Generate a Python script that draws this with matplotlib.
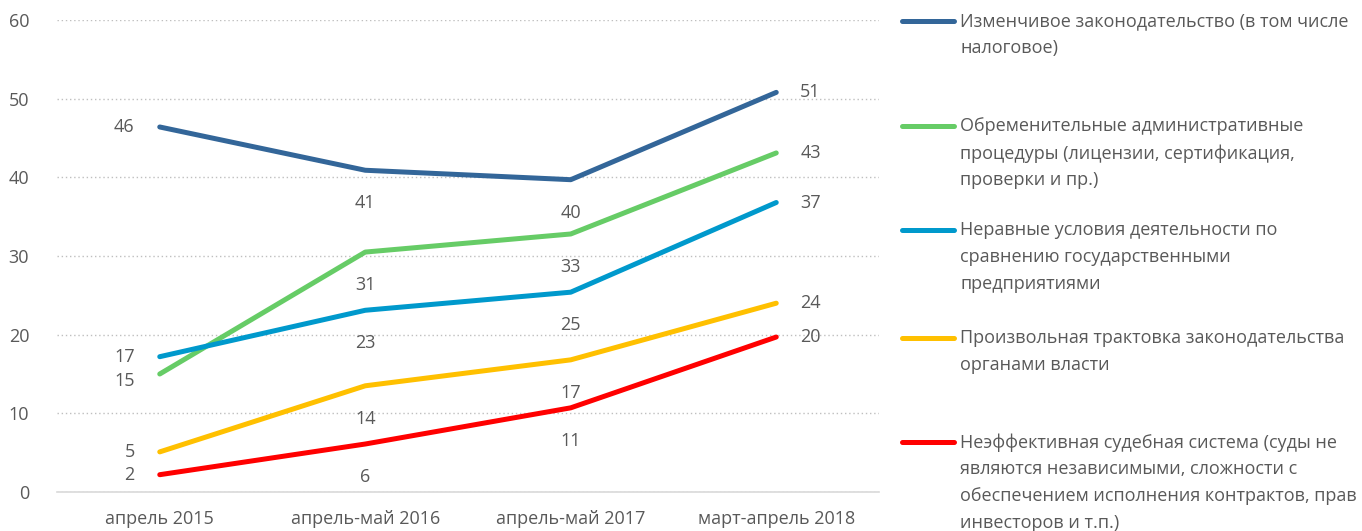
import matplotlib
matplotlib.use("Agg")
import matplotlib.pyplot as plt
from matplotlib.lines import Line2D

plt.rcParams['font.family'] = ['Open Sans', 'DejaVu Sans']

# Categories and series
periods = ["апрель 2015", "апрель-май 2016", "апрель-май 2017", "март-апрель 2018"]

changing_law = [46.4, 40.9, 39.7, 50.8]
admin_burden = [15.0, 30.5, 32.8, 43.1]
unequal_terms = [17.2, 23.1, 25.4, 36.8]
arbitrary_law = [5.1, 13.5, 16.8, 24.0]
courts = [2.2, 6.1, 10.7, 19.7]

series_names = [
    "Изменчивое законодательство (в том числе\nналоговое)",
    "Обременительные административные\nпроцедуры (лицензии, сертификация,\nпроверки и пр.)",
    "Неравные условия деятельности по\nсравнению государственными\nпредприятиями",
    "Произвольная трактовка законодательства\nорганами власти",
    "Неэффективная судебная система (суды не\nявляются независимыми, сложности с\nобеспечением исполнения контрактов, прав\nинвесторов и т.п.)",
]
series_values = [changing_law, admin_burden, unequal_terms, arbitrary_law, courts]
colors = ["#336699", "#66CC66", "#0099CC", "#FFC000", "#FF0000"]

grey = "#595959"
fs = 13

fig = plt.figure(figsize=(13.62, 5.31), dpi=100)
ax = fig.add_axes([57 / 1362, 1 - 492 / 531, (879 - 57) / 1362, (492 - 20) / 531])

x = list(range(len(periods)))
for vals, col in zip(series_values, colors):
    ax.plot(x, vals, color=col, lw=3.6, solid_capstyle="round", zorder=3)

# data labels
for i, (vals, col) in enumerate(zip(series_values, colors)):
    for j, v in enumerate(vals):
        txt = str(int(v + 0.5))
        if j == 0:
            dy = -7 if i == 1 else 0
            ax.annotate(txt, (j, v), xytext=(-25, dy), textcoords="offset pixels",
                        ha="right", va="center", fontsize=fs, color=grey)
        elif j == len(vals) - 1:
            ax.annotate(txt, (j, v), xytext=(24, 0), textcoords="offset pixels",
                        ha="left", va="center", fontsize=fs, color=grey)
        else:
            ax.annotate(txt, (j, v), xytext=(0, -33), textcoords="offset pixels",
                        ha="center", va="center", fontsize=fs, color=grey)

ax.set_xlim(-0.5, 3.5)
ax.set_ylim(0, 60)
ax.set_yticks(range(0, 61, 10))
ax.set_xticks(x)
ax.set_xticklabels(periods)
ax.tick_params(axis="both", length=0, labelsize=fs, labelcolor=grey)
ax.tick_params(axis="y", pad=20)
ax.tick_params(axis="x", pad=13)
ax.grid(axis="y", color="#BFBFBF", linestyle=(0, (1, 2)), lw=1)
ax.set_axisbelow(True)
for s in ["top", "right", "left"]:
    ax.spines[s].set_visible(False)
ax.spines["bottom"].set_color("#D9D9D9")
ax.spines["bottom"].set_linewidth(1.2)

# manual legend on the right
legend_y = [21, 126, 230, 338, 442]
W, H = 1362, 531
for name, col, ypx in zip(series_names, colors, legend_y):
    yf = 1 - ypx / H
    fig.add_artist(Line2D([902 / W, 954 / W], [yf, yf], color=col, lw=3.6,
                          solid_capstyle="round", transform=fig.transFigure))
    fig.text(960 / W, 1 - (ypx - 9) / H, name, ha="left", va="top", fontsize=fs,
             color=grey, linespacing=1.63, transform=fig.transFigure)

fig.savefig("out.png", dpi=100)
